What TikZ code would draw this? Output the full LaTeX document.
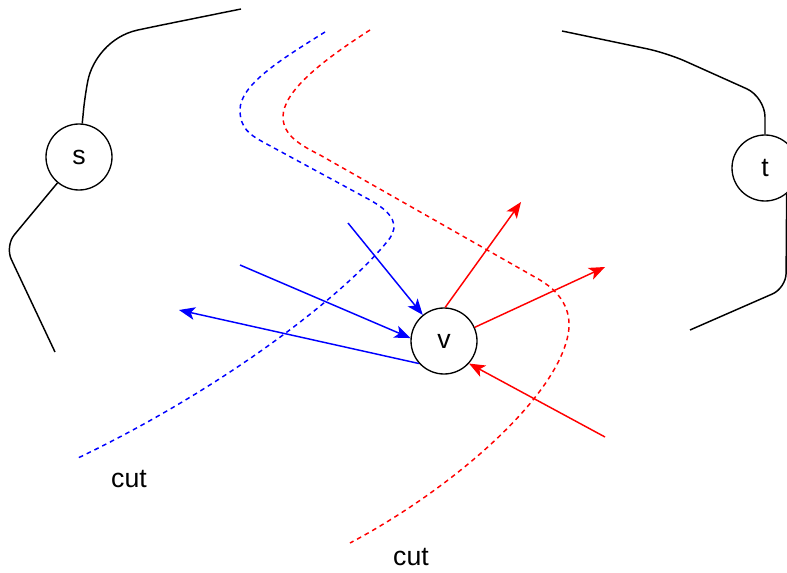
\documentclass[tikz,border=0pt]{standalone}
\usepackage{fontspec}
\setmainfont{Liberation Sans}
\usetikzlibrary{arrows.meta}
\definecolor{lhs}{RGB}{0,0,255}
\definecolor{rhs}{RGB}{255,0,0}
\tikzset{
  vert/.style={draw,circle,line width=1pt,minimum size=49.5pt,inner sep=0pt},
  arr/.style={-{Stealth[length=12pt,width=9.5pt,inset=3pt]},line width=1.1pt},
  cutline/.style={dash pattern=on 3.5pt off 3pt,line width=1.1pt},
  wire/.style={line width=1.1pt,rounded corners=11pt}
}

\begin{document}
\begin{tikzpicture}[x=0.75pt,y=-0.75pt,font=\fontsize{20}{24}\selectfont]
  \useasboundingbox (0,0) rectangle (787,573); \clip (0,0) rectangle (787,573);
  \node[vert] (s) at (79,157){s};
  \node[vert] (t) at (765,168){t};
  \node[vert] (v) at (444,341){v};
  \coordinate (sa) at (241,9); \coordinate (sb) at (55,352);
  \coordinate (ta) at (562,31); \coordinate (tb) at (690,330);
  \draw[wire] (sa) -- (152,27) .. controls (110,36) and (92,60) .. (85,95) -- (s);
  \draw[wire] (s) -- (5,246) -- (sb);
  \draw[wire,rounded corners=15pt] (ta) -- (667,53) -- (765,97) -- (t);
  \draw[wire] (t.-50) -- (786,288) -- (tb);
  \draw[lhs,cutline] (325,32) .. controls (280,60) and (240,85) .. (240,110)
    .. controls (240,128) and (250,135) .. (263,142) -- (370,200)
    .. controls (395,214) and (398,226) .. (390,238)
    .. controls (350,290) and (230,385) .. (78,458);
  \draw[rhs,cutline] (370,30) .. controls (320,62) and (283,92) .. (283,117)
    .. controls (283,135) and (300,145) .. (320,155) -- (540,280)
    .. controls (565,295) and (572,315) .. (568,335)
    .. controls (555,400) and (450,490) .. (350,543);
  \coordinate (b1) at (348,223); \coordinate (b2) at (240,265); \coordinate (b3) at (179,310);
  \coordinate (r1) at (521,202); \coordinate (r2) at (605,267); \coordinate (r3) at (605,437);
  \draw[lhs,arr] (b1) -- (v); \draw[lhs,arr] (b2) -- (v.175);
  \draw[lhs,arr] (v.222) -- (b3);
  \draw[rhs,arr] (v.88) -- (r1); \draw[rhs,arr] (v.24) -- (r2);
  \draw[rhs,arr] (r3) -- (v.318);
  \node (cutl) at (129,479){cut};
  \node (cutr) at (411,557){cut};
\end{tikzpicture}
\end{document}
